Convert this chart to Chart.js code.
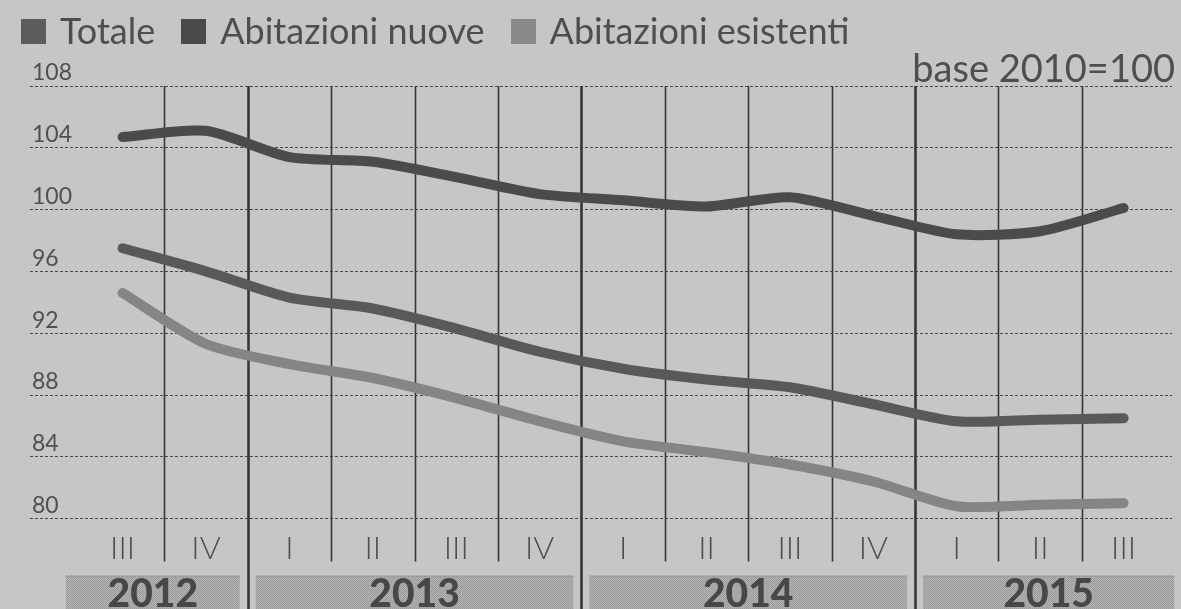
<!DOCTYPE html>
<html>
<head>
<meta charset="utf-8">
<script src="https://cdn.jsdelivr.net/npm/chart.js@4/dist/chart.umd.min.js"></script>
<style>
  html, body { margin: 0; padding: 0; }
  body { width: 1181px; height: 609px; background: #c6c6c6; position: relative; overflow: hidden; font-family: Lato, "Open Sans", sans-serif; }
  #wrap { position: absolute; left: 0; top: 0; width: 1181px; height: 609px; }
  #legend { position: absolute; left: 21px; top: 8px; font-size: 36px; line-height: 44px; color: #4e4e4e; white-space: nowrap; }
  #legend span.item { display: inline-block; margin-right: 26px; }
  #legend span.box { display: inline-block; width: 25px; height: 25px; margin-right: 14px; vertical-align: baseline; }
  #base { position: absolute; right: 6px; top: 45px; font-size: 38px; line-height: 44px; color: #4e4e4e; white-space: nowrap; }
</style>
</head>
<body>
<div id="wrap"><canvas id="c" width="1181" height="609"></canvas></div>
<div id="legend"></div>
<div id="base">base 2010=100</div>
<script>
// ---- data ----
const quarterLabels = ['III', 'IV', 'I', 'II', 'III', 'IV', 'I', 'II', 'III', 'IV', 'I', 'II', 'III'];
const yearLabels = ['2012', '2013', '2014', '2015'];
const yearOfQuarter = [0, 0, 1, 1, 1, 1, 2, 2, 2, 2, 3, 3, 3];
const totale = [97.5, 96.0, 94.3, 93.6, 92.3, 90.8, 89.7, 89.0, 88.5, 87.4, 86.3, 86.4, 86.5];
const abitazioniNuove = [104.7, 105.1, 103.4, 103.1, 102.1, 101.0, 100.6, 100.2, 100.8, 99.6, 98.4, 98.6, 100.1];
const abitazioniEsistenti = [94.6, 91.3, 90.0, 89.1, 87.8, 86.3, 85.0, 84.3, 83.5, 82.4, 80.8, 80.9, 81.0];
const yMin = 80, yMax = 108, yStep = 4;
const seriesNames = ['Totale', 'Abitazioni nuove', 'Abitazioni esistenti'];

const toPoints = arr => arr.map((v, i) => ({ x: i, y: v }));

// hatched pattern for the year band
function makePattern(ctx) {
  const p = document.createElement('canvas');
  p.width = 2; p.height = 2;
  const pc = p.getContext('2d');
  pc.fillStyle = '#b2b2b2'; pc.fillRect(0, 0, 2, 2);
  pc.fillStyle = '#9c9c9c'; pc.fillRect(0, 0, 1, 1); pc.fillRect(1, 1, 1, 1);
  return ctx.createPattern(p, 'repeat');
}

const decorations = {
  id: 'decorations',
  beforeDatasetsDraw(chart) {
    const { ctx, chartArea, scales: { x } } = chart;
    ctx.save();
    // separators between quarters
    for (let i = 0; i < quarterLabels.length - 1; i++) {
      const yearEdge = yearOfQuarter[i] !== yearOfQuarter[i + 1];
      const px = Math.round(x.getPixelForValue(i + 0.5)) + 0.5;
      ctx.beginPath();
      ctx.strokeStyle = '#363636';
      ctx.lineWidth = yearEdge ? 2.6 : 1.6;
      ctx.moveTo(px, chartArea.top);
      ctx.lineTo(px, yearEdge ? chart.height : chartArea.bottom + 43);
      ctx.stroke();
    }
    // year bands
    const bandTop = chartArea.bottom + 57;
    const pattern = makePattern(ctx);
    yearLabels.forEach((yl, yi) => {
      const idx = yearOfQuarter.map((q, i) => q === yi ? i : -1).filter(i => i >= 0);
      const first = idx[0], last = idx[idx.length - 1];
      let left = x.getPixelForValue(first - 0.5) + 8;
      let right = x.getPixelForValue(last + 0.5) - 8;
      if (yi === 0) left = x.getPixelForValue(first - 0.5) - 15;
      if (yi === yearLabels.length - 1) right = x.getPixelForValue(last + 0.5) + 9;
      ctx.fillStyle = pattern;
      ctx.fillRect(left, bandTop, right - left, chart.height - bandTop);
      ctx.beginPath();
      ctx.setLineDash([2, 2]);
      ctx.strokeStyle = '#8a8a8a';
      ctx.lineWidth = 1;
      ctx.moveTo(left, bandTop + 0.5);
      ctx.lineTo(right, bandTop + 0.5);
      ctx.stroke();
      ctx.setLineDash([]);
      ctx.fillStyle = '#474747';
      ctx.font = '900 39px Lato, "Open Sans", sans-serif';
      ctx.textAlign = 'center';
      ctx.textBaseline = 'alphabetic';
      ctx.fillText(yl, (left + right) / 2, bandTop + 31);
    });
    ctx.restore();
  }
};

const chart = new Chart(document.getElementById('c'), {
  type: 'line',
  data: {
    datasets: [
      { label: seriesNames[0], data: toPoints(totale), borderColor: '#595959', backgroundColor: '#5c5c5c' },
      { label: seriesNames[1], data: toPoints(abitazioniNuove), borderColor: '#4b4b4b', backgroundColor: '#4a4a4a' },
      { label: seriesNames[2], data: toPoints(abitazioniEsistenti), borderColor: '#858585', backgroundColor: '#8a8a8a' }
    ]
  },
  options: {
    responsive: false,
    animation: false,
    layout: { padding: { left: 26, right: 9, top: 86, bottom: 30 } },
    elements: {
      line: { borderWidth: 10, tension: 0.25, borderCapStyle: 'round', borderJoinStyle: 'round', fill: false },
      point: { radius: 0, hoverRadius: 0 }
    },
    plugins: { legend: { display: false }, tooltip: { enabled: false } },
    scales: {
      x: {
        type: 'linear',
        min: -1.11,
        max: 12.58,
        afterBuildTicks: s => { s.ticks = quarterLabels.map((_, i) => ({ value: i })); },
        ticks: {
          autoSkip: false,
          maxRotation: 0,
          padding: 11,
          color: '#4e4e4e',
          font: { family: 'Lato, "Open Sans", sans-serif', size: 32, weight: '300' },
          callback: v => quarterLabels[v]
        },
        grid: { display: false, drawTicks: false },
        border: { display: false }
      },
      y: {
        min: yMin,
        max: yMax,
        ticks: {
          stepSize: yStep,
          mirror: true,
          padding: 2,
          labelOffset: -13,
          color: '#505050',
          font: { family: 'Lato, "Open Sans", sans-serif', size: 23, weight: '400' }
        },
        grid: { color: '#4a4a4a', lineWidth: 1, drawTicks: false },
        border: { display: false, dash: [3, 2] }
      }
    }
  },
  plugins: [decorations]
});

// HTML legend built from the datasets
const legend = document.getElementById('legend');
chart.data.datasets.forEach(ds => {
  const item = document.createElement('span');
  item.className = 'item';
  const box = document.createElement('span');
  box.className = 'box';
  box.style.background = ds.backgroundColor;
  item.appendChild(box);
  item.appendChild(document.createTextNode(ds.label));
  legend.appendChild(item);
});
</script>
</body>
</html>
